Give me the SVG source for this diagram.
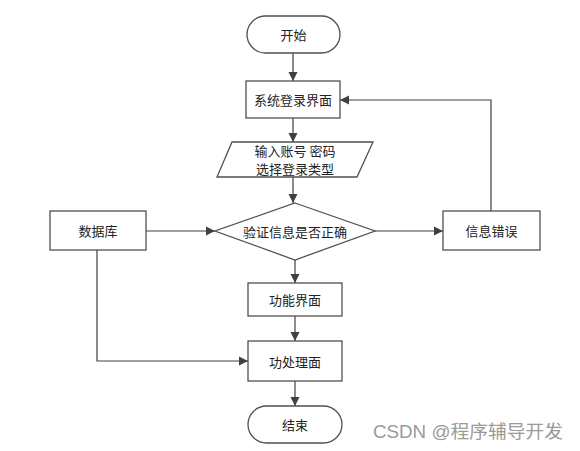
<svg xmlns="http://www.w3.org/2000/svg" width="580" height="451" viewBox="0 0 580 451">
<defs>
<marker id="arr" markerWidth="10" markerHeight="10" refX="9" refY="5" orient="auto" markerUnits="userSpaceOnUse">
<path d="M0,0.5 L9,5 L0,9.5 Z" fill="#404040"/>
</marker>
</defs>
<style>
.s{fill:#fff;stroke:#505050;stroke-width:1.3}
.t{font-family:"Noto Sans CJK SC","Liberation Serif",serif;font-size:13px;fill:#222;text-anchor:middle;dominant-baseline:central}
.c{fill:none;stroke:#404040;stroke-width:1.2;marker-end:url(#arr)}
</style>
<rect width="580" height="451" fill="#fff"/>
<g id="connectors">
<path class="c" d="M293,53 V81"/>
<path class="c" d="M293,118 V142"/>
<path class="c" d="M293,177 V203"/>
<path class="c" d="M146,231 H215"/>
<path class="c" d="M375,231 H443"/>
<path class="c" d="M295,260 V283"/>
<path class="c" d="M295,316 V341"/>
<path class="c" d="M295,381 V406"/>
<path class="c" d="M491,211 V100 H340"/>
<path class="c" d="M97,250 V361 H248"/>
</g>
<g id="start"><rect class="s" x="247" y="16" width="93" height="37" rx="18.5"/><text class="t" x="293.5" y="34.5">开始</text></g>
<g id="login"><rect class="s" x="246" y="81" width="94" height="37"/><text class="t" x="293" y="99.5">系统登录界面</text></g>
<g id="input"><polygon class="s" points="232,142 373,142 357,177 217,177"/><text class="t" x="295" y="150.5">输入账号 密码</text><text class="t" x="295" y="168.5">选择登录类型</text></g>
<g id="verify"><polygon class="s" points="295,203 375,231 295,260 215,231"/><text class="t" x="295" y="231">验证信息是否正确</text></g>
<g id="db"><rect class="s" x="50" y="211" width="96" height="39"/><text class="t" x="98" y="230.5">数据库</text></g>
<g id="error"><rect class="s" x="443" y="211" width="97" height="39"/><text class="t" x="491.5" y="230.5">信息错误</text></g>
<g id="func"><rect class="s" x="248" y="283" width="94" height="33"/><text class="t" x="295" y="299.5">功能界面</text></g>
<g id="proc"><rect class="s" x="248" y="341" width="94" height="40"/><text class="t" x="295" y="361">功处理面</text></g>
<g id="end"><rect class="s" x="248" y="406" width="94" height="37" rx="18.5"/><text class="t" x="295" y="424.5">结束</text></g>
<text x="373" y="438" textLength="190" lengthAdjust="spacingAndGlyphs" style="font-family:'Liberation Sans','Noto Sans CJK SC',sans-serif;font-size:18px;fill:#9a9a9a">CSDN @程序辅导开发</text>
</svg>
